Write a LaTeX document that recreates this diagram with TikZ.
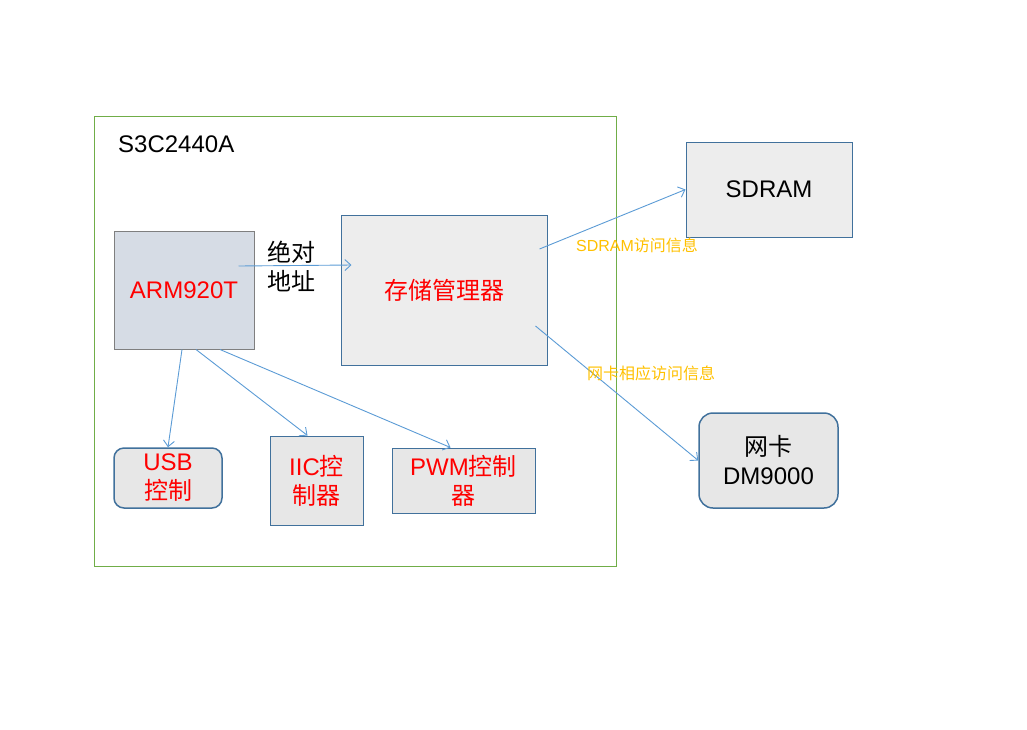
\documentclass[tikz,border=0pt]{standalone}
\usepackage{fontspec}
\setmainfont{Liberation Sans}
\newfontfamily\cjk{Noto Sans CJK SC}
\usetikzlibrary{arrows.meta}
\definecolor{linkblue}{HTML}{5B9BD5}
\definecolor{boxline}{HTML}{41719C}
\definecolor{boxfill}{HTML}{EDEDED}
\definecolor{ctrlfill}{HTML}{E7E7E7}
\definecolor{armfill}{HTML}{D6DCE5}
\definecolor{armline}{HTML}{7F7F7F}
\definecolor{chipgreen}{HTML}{70AD47}
\definecolor{noteorange}{HTML}{FFC000}
\newcommand{\zh}[1]{{\cjk #1}}

\begin{document}
\begin{tikzpicture}[x=1pt,y=-1pt,
    box/.style={draw=boxline,fill=boxfill,line width=1pt,inner sep=0pt},
    big/.style={font=\fontsize{24}{29}\selectfont,align=center},
    note/.style={font=\fontsize{16}{19}\selectfont,text=noteorange,inner sep=0pt},
    link/.style={draw=linkblue,line width=0.9pt,-{Straight Barb[length=6pt,width=11pt]}}]
      \useasboundingbox (0,0) rectangle (1027,729);
      % the chip
      \node[draw=chipgreen,line width=1pt,minimum width=522pt,minimum height=450pt] (chip) at (355,341) {};
      \node[big,anchor=west,inner sep=0pt] (chipname) at (118,144) {S3C2440A};
      \node[box,fill=armfill,draw=armline,minimum width=140pt,minimum height=118pt,big,text=red] (arm) at (184,290) {ARM920T};
      \node[box,minimum width=206pt,minimum height=150pt,big,text=red] (mem) at (444,290) {\zh{存储管理器}};
      \node[box,fill=ctrlfill,line width=1.5pt,rounded corners=10pt,minimum width=108pt,minimum height=60pt,big,text=red] (usb) at (168,478) {USB\\\zh{控制}};
      \node[box,fill=ctrlfill,minimum width=93pt,minimum height=89pt,big,text=red] (iic) at (316.5,480.5) {IIC\zh{控}\\\zh{制器}};
      \node[box,fill=ctrlfill,minimum width=143pt,minimum height=65pt,big,text=red] (pwm) at (463.5,480.5) {PWM\zh{控制}\\\zh{器}};
      % outside the chip
      \node[box,minimum width=166pt,minimum height=95pt,big] (sdram) at (769,189.5) {SDRAM};
      \node[box,fill=ctrlfill,line width=1.5pt,rounded corners=14pt,minimum width=139pt,minimum height=95pt,big] (dm) at (768.5,460.5) {\zh{网卡}\\DM9000};
      % connectors
      \draw[link] ([xshift=-16pt,yshift=24pt]arm.east) -- ([xshift=11pt,yshift=25pt]mem.west);
      \node[big,align=left] (addr) at (291,266) {\zh{绝对}\\\zh{地址}};
      \draw[link] ([xshift=-8pt,yshift=41pt]mem.east) -- (sdram.west);
      \node[note] (sdraminfo) at (637,245) {SDRAM\zh{访问信息}};
      \draw[link] ([xshift=-12pt,yshift=-36pt]mem.east) -- (dm.west);
      \node[note] (netinfo) at (651,373) {\zh{网卡相应访问信息}};
      \draw[link] ([xshift=-2pt]arm.south) -- (usb.north);
      \draw[link] ([xshift=12pt]arm.south) -- ([xshift=-9pt]iic.north);
      \draw[link] ([xshift=36pt]arm.south) -- ([xshift=-13pt]pwm.north);
\end{tikzpicture}
\end{document}
